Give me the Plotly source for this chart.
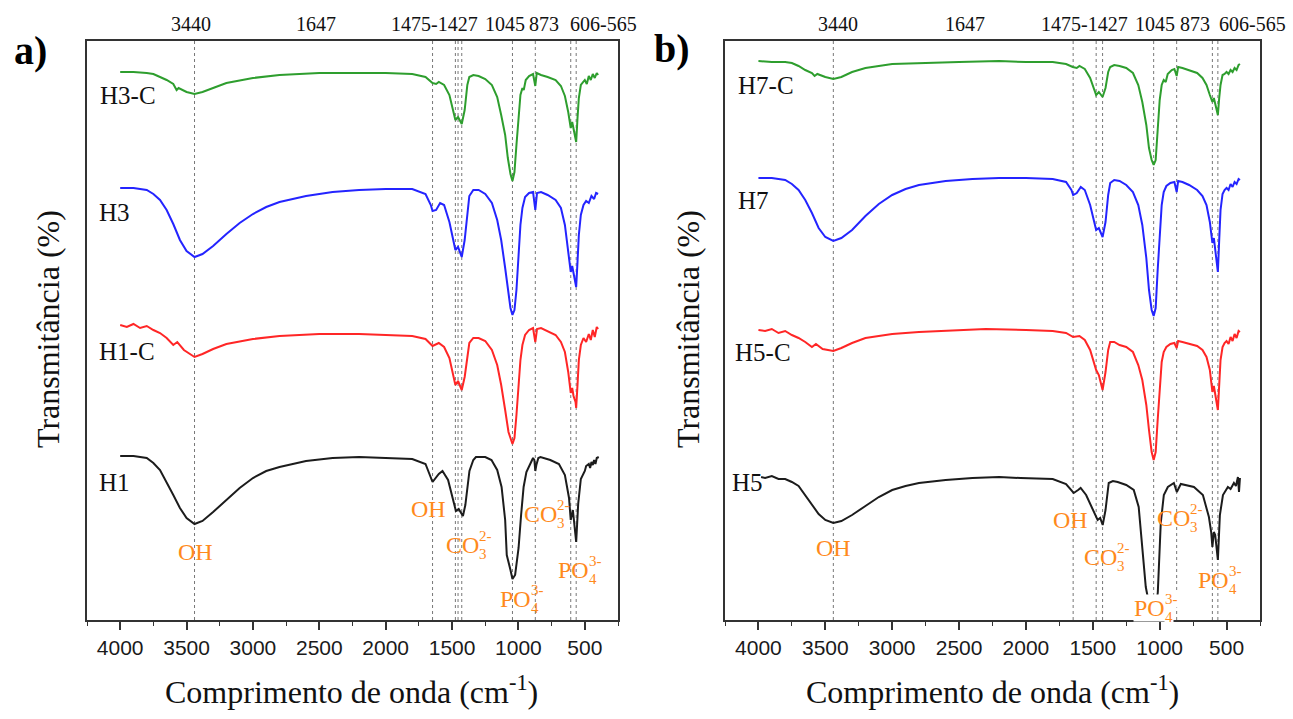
import plotly.graph_objects as go

W, H = 1293, 719

# ---------------- data (wavenumber cm-1, relative transmittance a.u.) ----------------
# Panel a
H1_wn = [4000, 3900, 3800, 3750, 3700, 3650, 3600, 3550, 3500, 3440, 3380, 3300, 3200, 3100, 3000, 2900, 2800,
         2600, 2400, 2200, 2000, 1800, 1700, 1647, 1600, 1572, 1530, 1500, 1471, 1450, 1418, 1400, 1385, 1369,
         1340, 1320, 1250, 1203, 1160, 1127, 1100, 1088, 1060, 1045, 1025, 1010, 999, 980, 961, 940, 924, 890,
         880, 873, 865, 850, 834, 760, 695, 650, 619, 606, 590, 580, 565, 550, 530, 500, 490, 470, 460, 450,
         440, 430, 420, 410, 395]
H1_T = [164, 164, 162, 157, 150, 138, 125, 112, 102, 96, 99, 108, 120, 132, 142, 149, 153,
        159, 162, 163, 162, 161, 156, 138, 146, 149, 140, 125, 109, 111, 104, 115, 135, 149,
        160, 163, 163, 160, 150, 133, 100, 65, 50, 41, 45, 60, 72, 105, 133, 148, 153, 162,
        160, 149, 155, 162, 163, 160, 156, 145, 122, 100, 110, 95, 78, 116, 141, 149, 154, 156, 152, 158,
        155, 160, 156, 162, 163]

H1C_wn = [4000, 3950, 3900, 3850, 3800, 3750, 3700, 3650, 3600, 3570, 3520, 3440, 3380, 3300, 3200, 3000, 2800,
          2500, 2200, 2000, 1800, 1700, 1647, 1600, 1560, 1520, 1490, 1475, 1455, 1427, 1405, 1385, 1370, 1340,
          1300, 1250, 1200, 1160, 1130, 1100, 1075, 1045, 1030, 1015, 1000, 985, 970, 950, 920, 890, 873, 860,
          830, 780, 720, 680, 650, 625, 606, 595, 585, 570, 565, 555, 545, 530, 510, 490, 470, 455, 440, 425,
          410, 400]
H1C_T = [295, 293, 296, 292, 294, 290, 287, 282, 275, 278, 270, 263, 266, 271, 276, 281, 284,
         286, 286, 285, 284, 281, 274, 277, 273, 262, 245, 235, 239, 230, 243, 265, 277, 282,
         282, 279, 270, 255, 235, 210, 188, 176, 182, 205, 235, 260, 275, 285, 290, 292, 278, 291,
         292, 289, 285, 278, 268, 248, 227, 232, 224, 218, 212, 235, 260, 275, 282, 278, 286, 280, 290, 283,
         293, 291]

H3_wn = [4000, 3900, 3800, 3750, 3700, 3650, 3600, 3550, 3500, 3440, 3380, 3300, 3200, 3100, 3000, 2900, 2800,
         2600, 2400, 2200, 2000, 1800, 1700, 1660, 1647, 1620, 1590, 1560, 1520, 1490, 1475, 1455, 1427, 1405,
         1385, 1370, 1340, 1300, 1250, 1200, 1160, 1130, 1100, 1075, 1060, 1045, 1030, 1015, 1000, 985, 970,
         950, 920, 890, 873, 860, 830, 780, 720, 680, 650, 625, 606, 595, 580, 565, 555, 545, 530, 510, 490,
         470, 450, 430, 415, 400]
H3_T = [432, 432, 430, 426, 420, 410, 396, 380, 369, 363, 366, 374, 386, 397, 406, 413, 418,
        424, 428, 430, 431, 431, 426, 415, 409, 410, 417, 415, 398, 380, 370, 373, 363, 380,
        410, 424, 430, 430, 426, 417, 400, 380, 352, 325, 312, 305, 310, 330, 365, 395, 412,
        423, 427, 428, 410, 427, 428, 425, 420, 412, 395, 370, 348, 354, 342, 333, 358, 385, 405, 415, 419,
        417, 424, 421, 427, 426]

H3C_wn = [4000, 3900, 3800, 3750, 3700, 3650, 3600, 3575, 3560, 3500, 3440, 3380, 3300, 3200, 3000, 2800, 2500,
          2200, 2000, 1800, 1700, 1647, 1620, 1600, 1560, 1520, 1490, 1475, 1455, 1427, 1405, 1385, 1370, 1340,
          1300, 1250, 1200, 1160, 1130, 1100, 1080, 1060, 1045, 1030, 1015, 1000, 985, 970, 960, 945, 920, 890,
          873, 862, 830, 780, 720, 680, 650, 625, 606, 595, 580, 565, 555, 545, 530, 515, 500, 485, 470, 455,
          440, 425, 410, 400]
H3C_T = [548, 548, 547, 546, 543, 540, 536, 530, 532, 528, 526, 528, 532, 537, 542, 545, 547,
         547, 547, 546, 543, 537, 536, 538, 535, 525, 510, 500, 503, 496, 510, 535, 543, 545,
         544, 541, 535, 523, 505, 485, 462, 446, 439, 448, 475, 505, 525, 532, 530, 540, 544, 546,
         534, 547, 545, 543, 540, 534, 524, 508, 492, 498, 488, 478, 502, 522, 535, 538, 540, 536, 544, 540,
         546, 542, 547, 545]

# Panel b
H5_wn = [3980, 3950, 3900, 3850, 3800, 3750, 3700, 3650, 3600, 3550, 3500, 3440, 3380, 3300, 3200, 3100, 3000,
         2900, 2800, 2600, 2400, 2200, 2040, 1800, 1700, 1643, 1610, 1591, 1550, 1500, 1464, 1445, 1426, 1405,
         1381, 1350, 1314, 1250, 1194, 1157, 1127, 1104, 1085, 1060, 1045, 1030, 1014, 992, 969, 939, 894, 872,
         842, 744, 677, 632, 615, 606, 595, 585, 565, 550, 527, 490, 470, 445, 430, 415, 407, 400]
H5_T = [143, 142, 144, 141, 141, 138, 134, 125, 115, 106, 100, 97, 99, 105, 114, 123, 130,
        134, 137, 140, 142, 143, 142, 141, 136, 127, 130, 132, 125, 110, 100, 102, 95, 110,
        137, 139, 138, 135, 130, 113, 70, 33, 20, 8, 5, 8, 28, 97, 125, 133, 137, 128,
        136, 133, 125, 103, 88, 73, 88, 85, 60, 105, 125, 133, 131, 137, 134, 143, 128, 142]

H5C_wn = [4000, 3950, 3900, 3850, 3800, 3750, 3700, 3650, 3600, 3570, 3520, 3440, 3380, 3300, 3200, 3000, 2800,
          2500, 2300, 2000, 1800, 1700, 1647, 1600, 1560, 1520, 1490, 1475, 1455, 1427, 1405, 1385, 1370, 1340,
          1300, 1250, 1200, 1160, 1130, 1100, 1080, 1060, 1045, 1030, 1015, 1000, 985, 970, 950, 920, 890, 873,
          862, 830, 780, 720, 680, 650, 625, 606, 595, 580, 565, 555, 545, 530, 515, 500, 485, 470, 455, 440,
          425, 410, 400]
H5C_T = [290, 289, 291, 287, 289, 285, 282, 278, 273, 276, 271, 269, 272, 277, 282, 286, 288,
         290, 291, 290, 289, 287, 283, 284, 280, 270, 258, 250, 245, 230, 248, 270, 278, 278,
         275, 273, 268, 255, 240, 215, 190, 168, 160, 168, 200, 235, 258, 268, 273, 276, 277, 272,
         279, 278, 276, 274, 270, 263, 250, 228, 234, 222, 210, 235, 260, 273, 277, 279, 276, 283, 279, 286,
         282, 289, 288]

H7_wn = [4000, 3900, 3800, 3750, 3700, 3650, 3600, 3550, 3500, 3440, 3380, 3300, 3200, 3100, 3000, 2900, 2800,
         2600, 2400, 2200, 2000, 1800, 1700, 1660, 1647, 1620, 1590, 1560, 1520, 1490, 1475, 1455, 1427, 1405,
         1385, 1370, 1340, 1300, 1250, 1200, 1160, 1130, 1100, 1080, 1060, 1045, 1030, 1015, 1000, 985, 970,
         950, 920, 890, 873, 862, 830, 780, 720, 680, 650, 625, 606, 595, 580, 565, 555, 545, 530, 515, 500,
         485, 470, 455, 440, 425, 410, 400]
H7_T = [442, 442, 440, 436, 430, 420, 407, 392, 383, 379, 382, 390, 404, 416, 425, 431, 435,
        439, 441, 442, 442, 441, 438, 430, 425, 427, 433, 430, 415, 398, 390, 392, 383, 398,
        425, 437, 440, 439, 435, 428, 415, 395, 362, 330, 310, 304, 312, 350, 390, 415, 428,
        434, 437, 438, 428, 439, 438, 435, 430, 424, 415, 398, 377, 382, 365, 348, 380, 410, 426, 430, 432,
        430, 436, 433, 438, 436, 441, 440]

H7C_wn = [4000, 3900, 3800, 3750, 3700, 3650, 3600, 3580, 3560, 3500, 3440, 3380, 3300, 3200, 3000, 2800, 2500,
          2200, 2000, 1800, 1700, 1650, 1620, 1600, 1560, 1520, 1490, 1475, 1455, 1427, 1405, 1385, 1370, 1340,
          1300, 1250, 1200, 1160, 1130, 1100, 1080, 1060, 1045, 1030, 1015, 1000, 985, 970, 955, 940, 910, 890,
          873, 862, 830, 780, 720, 680, 650, 625, 606, 595, 580, 565, 555, 545, 530, 515, 500, 485, 470, 455,
          440, 425, 410, 400]
H7C_T = [559, 558, 558, 557, 554, 550, 547, 544, 546, 543, 541, 543, 548, 552, 556, 557, 558,
         559, 558, 558, 556, 553, 552, 554, 551, 542, 532, 525, 528, 523, 532, 548, 553, 555,
         554, 552, 547, 535, 518, 495, 472, 460, 455, 460, 490, 520, 535, 540, 538, 546, 550, 551,
         544, 553, 552, 550, 547, 542, 535, 525, 518, 522, 512, 505, 522, 535, 545, 546, 548, 546, 550, 548,
         552, 550, 555, 556]

# marked band positions (dashed guide lines)
bands_a = [3440, 1647, 1475, 1455, 1427, 1045, 873, 606, 565]
bands_b = [3440, 1647, 1475, 1427, 1045, 873, 606, 565]
band_labels = ["3440", "1647", "1475-1427", "1045", "873", "606-565"]

series_a = [("H3-C", H3C_wn, H3C_T, "#2e9e2e"), ("H3", H3_wn, H3_T, "#2424ff"),
            ("H1-C", H1C_wn, H1C_T, "#ff2626"), ("H1", H1_wn, H1_T, "#1c1c1c")]
series_b = [("H7-C", H7C_wn, H7C_T, "#2e9e2e"), ("H7", H7_wn, H7_T, "#2424ff"),
            ("H5-C", H5C_wn, H5C_T, "#ff2626"), ("H5", H5_wn, H5_T, "#1c1c1c")]

SERIF = "Liberation Serif, Times New Roman, serif"
SANS = "Liberation Sans, Arial, sans-serif"
ORANGE = "#ff8a1c"

fig = go.Figure()
for name, wn, t, c in series_a:
    fig.add_trace(go.Scatter(x=wn, y=t, mode="lines", name=name, line=dict(color=c, width=2),
                             xaxis="x", yaxis="y", showlegend=False))
for name, wn, t, c in series_b:
    fig.add_trace(go.Scatter(x=wn, y=t, mode="lines", name=name, line=dict(color=c, width=2),
                             xaxis="x2", yaxis="y2", showlegend=False))

GUIDE = dict(color="#777777", width=1, dash="3px,3px")
shapes = []
for b in bands_a:
    shapes.append(dict(type="line", xref="x", yref="y domain", x0=b, x1=b, y0=0, y1=1,
                       line=GUIDE, layer="below"))
for b in bands_b:
    shapes.append(dict(type="line", xref="x2", yref="y2 domain", x0=b, x1=b, y0=0, y1=1,
                       line=GUIDE, layer="below"))

ann = []


def P(x, y):
    return x / W, 1 - y / H


def txt(x, y, s, size, color="#111", family=SERIF, xanchor="center", angle=0, bg=None, bold=False):
    px, py = P(x, y)
    d = dict(x=px, y=py, xref="paper", yref="paper", text=("<b>%s</b>" % s) if bold else s, showarrow=False,
             xanchor=xanchor, yanchor="middle", textangle=angle,
             font=dict(family=family, size=size, color=color))
    if bg:
        d["bgcolor"] = bg
        d["borderpad"] = 0
    ann.append(d)


def chem(cx, cy, main, sup, sub, mainw, bg=None):
    total = mainw + 13
    left = cx - total / 2
    txt(left, cy, main, 24, ORANGE, xanchor="left", bg=bg)
    if sup:
        txt(left + mainw, cy - 9, sup, 15, ORANGE, xanchor="left", bg=bg)
    if sub:
        txt(left + mainw, cy + 9, sub, 15, ORANGE, xanchor="left", bg=bg)


# panel letters
txt(30, 50, "a)", 40, "#000", bold=True)
txt(672, 48, "b)", 40, "#000", bold=True)

# band labels on top
for s, x in zip(band_labels, [191, 316, 434, 505, 544, 603]):
    txt(x, 24, s, 20)
for s, x in zip(band_labels, [838, 965, 1084, 1155, 1195, 1252]):
    txt(x, 24, s, 20)

# series labels
for s, (x, y) in zip(["H3-C", "H3", "H1-C", "H1"], [(98, 95), (97, 213), (97, 352), (97, 482)]):
    txt(x, y, s, 25, xanchor="left")
for s, (x, y) in zip(["H7-C", "H7", "H5-C", "H5"], [(736, 85), (736, 200), (733, 353), (730, 482)]):
    txt(x, y, s, 25, xanchor="left")

# assignments (panel a)
txt(195, 552, "OH", 24, ORANGE)
txt(429, 509, "OH", 24, ORANGE)
chem(467, 545, "CO", "2-", "3", 33)
chem(520, 599, "PO", "3-", "4", 31)
chem(545, 514, "CO", "2-", "3", 33)
chem(578, 570, "PO", "3-", "4", 31)
# assignments (panel b)
txt(833, 548, "OH", 24, ORANGE)
txt(1070, 520, "OH", 24, ORANGE)
chem(1105, 557, "CO", "2-", "3", 33)
chem(1155, 608, "PO", "3-", "4", 31, bg="white")
chem(1178, 518, "CO", "2-", "3", 33)
chem(1218, 580, "PO", "3-", "4", 31)

# axis titles
txt(48, 329, "Transmitância (%)", 32, angle=-90)
txt(688, 329, "Transmitância (%)", 32, angle=-90)
txt(351, 690, "Comprimento de onda (cm<sup>-1</sup>)", 32)
txt(992, 690, "Comprimento de onda (cm<sup>-1</sup>)", 32)

xcommon = dict(range=[4250, 250], showline=True, mirror=True, linecolor="#333", linewidth=1.5,
               ticks="outside", ticklen=8, tickwidth=1.5, tickcolor="#333", dtick=500, tick0=0,
               minor=dict(dtick=250, ticks="outside", ticklen=4, tickcolor="#333", tickwidth=1.2),
               tickfont=dict(family=SANS, size=21, color="#1a1a1a"), showgrid=False, zeroline=False)
ycommon = dict(range=[0, 579], showline=True, mirror=True, linecolor="#333", linewidth=1.5,
               showticklabels=False, ticks="", showgrid=False, zeroline=False,
               domain=[1 - 620 / H, 1 - 41 / H])

fig.update_layout(
    width=W, height=H, margin=dict(l=0, r=0, t=0, b=0),
    paper_bgcolor="white", plot_bgcolor="white",
    xaxis=dict(domain=[87 / W, 618 / W], anchor="y", **xcommon),
    yaxis=dict(anchor="x", **ycommon),
    xaxis2=dict(domain=[725 / W, 1260 / W], anchor="y2", **xcommon),
    yaxis2=dict(anchor="x2", **ycommon),
    shapes=shapes, annotations=ann,
)

fig.write_html("out.html", config={"displayModeBar": False},
               post_script="document.body.style.margin='0px';document.body.style.overflow='hidden';")
